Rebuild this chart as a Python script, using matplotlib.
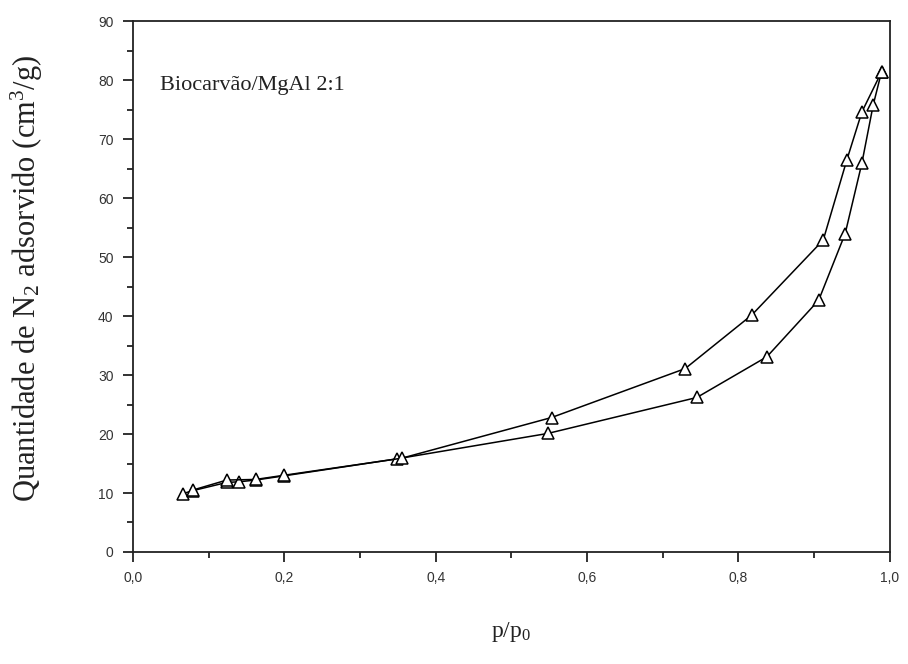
import matplotlib
matplotlib.use("Agg")
import matplotlib.pyplot as plt
from matplotlib.ticker import MultipleLocator, FuncFormatter

plt.rcParams["mathtext.fontset"] = "custom"
plt.rcParams["mathtext.rm"] = "Liberation Serif"
plt.rcParams["mathtext.it"] = "Liberation Serif:italic"

# adsorption branch (lower)
p_ads = [0.066, 0.079, 0.124, 0.140, 0.162, 0.199, 0.349, 0.548, 0.745, 0.8375, 0.906, 0.941, 0.963, 0.978, 0.989]
v_ads = [9.9, 10.4, 11.8, 11.9, 12.2, 12.9, 15.8, 20.1, 26.2, 33.1, 42.7, 54.0, 65.9, 75.8, 81.4]

# desorption branch (upper)
p_des = [0.989, 0.963, 0.943, 0.912, 0.8177, 0.7296, 0.553, 0.355, 0.199, 0.162, 0.124, 0.079]
v_des = [81.4, 74.6, 66.4, 52.9, 40.2, 31.1, 22.8, 15.9, 13.0, 12.3, 12.2, 10.5]

sample_label = "Biocarvão/MgAl 2:1"

fig = plt.figure(figsize=(9.08, 6.64), dpi=100)
ax = fig.add_axes([0.1465, 0.1687, 0.8335, 0.7993])

for p, v in ((p_ads, v_ads), (p_des, v_des)):
    ax.plot(p, v, color="black", linewidth=1.1, marker="^", markersize=9,
            markerfacecolor="white", markeredgecolor="black", markeredgewidth=1.1)

ax.set_xlim(0, 1.0)
ax.set_ylim(0, 90)
ax.xaxis.set_major_locator(MultipleLocator(0.2))
ax.xaxis.set_minor_locator(MultipleLocator(0.1))
ax.yaxis.set_major_locator(MultipleLocator(10))
ax.yaxis.set_minor_locator(MultipleLocator(5))
ax.xaxis.set_major_formatter(FuncFormatter(lambda v, _: f"{v:.1f}".replace(".", ",")))
ax.yaxis.set_major_formatter(FuncFormatter(lambda v, _: f"{v:.0f}"))

ax.tick_params(which="both", direction="out", top=False, right=False, width=1.3, color="#222222")
ax.tick_params(which="major", length=7, labelsize=10, labelcolor="#333333", pad=7)
ax.tick_params(which="minor", length=4)
for lab in ax.get_xticklabels() + ax.get_yticklabels():
    lab.set_family("Liberation Sans")
for spine in ax.spines.values():
    spine.set_linewidth(1.3)
    spine.set_color("#222222")

ax.text(0.035, 0.878, sample_label, transform=ax.transAxes, fontsize=16,
        family="Liberation Serif", ha="left", va="center", color="#222222")

ax.set_ylabel(r"Quantidade de N$_2$ adsorvido (cm$^3$/g)", fontsize=22,
              family="Liberation Serif", color="#222222")
ax.yaxis.set_label_coords(-0.116, 0.516)
ax.set_xlabel(r"p/p$_0$", fontsize=17, family="Liberation Serif", color="#222222")
ax.xaxis.set_label_coords(0.5, -0.128)

fig.savefig("out.png", dpi=100, facecolor="white")
plt.close(fig)
